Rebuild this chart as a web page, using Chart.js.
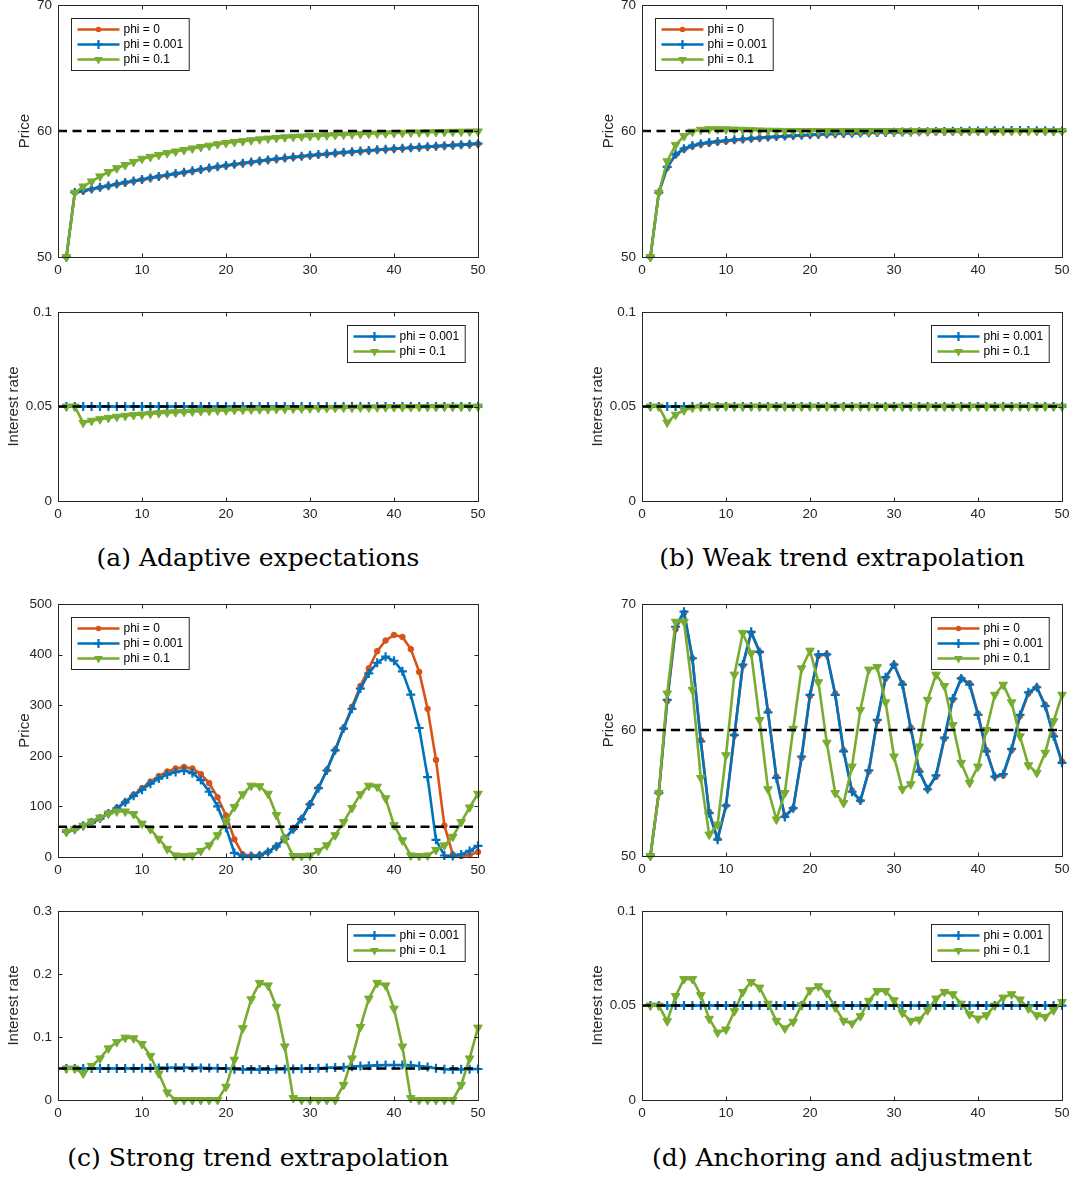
<!DOCTYPE html>
<html>
<head>
<meta charset="utf-8">
<script src="https://cdn.jsdelivr.net/npm/chart.js@4.4.1/dist/chart.umd.min.js"></script>
<style>
  body { margin: 0; background: #fff; width: 1074px; height: 1178px; position: relative; overflow: hidden; }
  canvas { position: absolute; }
  .cap { position: absolute; font-family: "DejaVu Serif", serif; font-size: 25px; line-height: 1; color: #000;
         transform: translate(-50%, -50%); white-space: nowrap; }
</style>
</head>
<body>
<div class="cap" style="left:258px;top:557px">(a) Adaptive expectations</div>
<div class="cap" style="left:842px;top:557px">(b) Weak trend extrapolation</div>
<div class="cap" style="left:258px;top:1157px">(c) Strong trend extrapolation</div>
<div class="cap" style="left:842px;top:1157px">(d) Anchoring and adjustment</div>

<script>
// ---- data ----
const periods = [1, 2, 3, 4, 5, 6, 7, 8, 9, 10, 11, 12, 13, 14, 15, 16, 17, 18, 19, 20,
  21, 22, 23, 24, 25, 26, 27, 28, 29, 30, 31, 32, 33, 34, 35, 36, 37, 38, 39, 40,
  41, 42, 43, 44, 45, 46, 47, 48, 49, 50];
const periodTicks = [0, 10, 20, 30, 40, 50];
const priceTicks = [50, 60, 70];
const priceTicksStrong = [0, 100, 200, 300, 400, 500];
const rateTicks = [0, 0.05, 0.1];
const rateTicksStrong = [0, 0.1, 0.2, 0.3];
const steadyPrice = 60;
const steadyRate = 0.05;
const seriesNames = ['phi = 0', 'phi = 0.001', 'phi = 0.1'];

// (a) adaptive expectations
const aPrice0 = [50, 55.1, 55.25, 55.38, 55.51, 55.64, 55.77, 55.9, 56.02, 56.14,
  56.26, 56.38, 56.49, 56.6, 56.71, 56.82, 56.93, 57.04, 57.15, 57.25,
  57.34, 57.43, 57.52, 57.61, 57.69, 57.77, 57.84, 57.91, 57.98, 58.05,
  58.11, 58.17, 58.23, 58.29, 58.34, 58.39, 58.44, 58.49, 58.54, 58.58,
  58.62, 58.66, 58.7, 58.74, 58.78, 58.82, 58.86, 58.9, 58.94, 58.98];
const aPrice1 = [50, 55.12, 55.27, 55.4, 55.53, 55.66, 55.79, 55.92, 56.04, 56.16,
  56.28, 56.4, 56.51, 56.62, 56.73, 56.84, 56.95, 57.06, 57.17, 57.27,
  57.36, 57.45, 57.54, 57.63, 57.71, 57.79, 57.86, 57.93, 58.0, 58.07,
  58.13, 58.19, 58.25, 58.31, 58.36, 58.41, 58.46, 58.51, 58.56, 58.6,
  58.64, 58.68, 58.72, 58.76, 58.8, 58.84, 58.88, 58.92, 58.96, 59.0];
const aPrice10 = [50, 55.1, 55.6, 56.0, 56.4, 56.75, 57.05, 57.3, 57.55, 57.8,
  57.95, 58.1, 58.25, 58.38, 58.5, 58.62, 58.73, 58.84, 58.95, 59.05,
  59.13, 59.2, 59.27, 59.34, 59.4, 59.45, 59.5, 59.54, 59.57, 59.6,
  59.63, 59.66, 59.69, 59.72, 59.74, 59.76, 59.78, 59.8, 59.82, 59.84,
  59.86, 59.88, 59.89, 59.9, 59.92, 59.93, 59.94, 59.95, 59.96, 59.97];
const rateFlat = [0.05, 0.05, 0.05, 0.05, 0.05, 0.05, 0.05, 0.05, 0.05, 0.05,
  0.05, 0.05, 0.05, 0.05, 0.05, 0.05, 0.05, 0.05, 0.05, 0.05,
  0.05, 0.05, 0.05, 0.05, 0.05, 0.05, 0.05, 0.05, 0.05, 0.05,
  0.05, 0.05, 0.05, 0.05, 0.05, 0.05, 0.05, 0.05, 0.05, 0.05,
  0.05, 0.05, 0.05, 0.05, 0.05, 0.05, 0.05, 0.05, 0.05, 0.05];
const aRate10 = [0.05, 0.05, 0.0414, 0.0425, 0.0433, 0.044, 0.0446, 0.0451, 0.0455, 0.0458,
  0.0462, 0.0465, 0.0468, 0.047, 0.0472, 0.0474, 0.0476, 0.0478, 0.0479, 0.048,
  0.0482, 0.0483, 0.0484, 0.0485, 0.0486, 0.0487, 0.0488, 0.0489, 0.049, 0.0491,
  0.0492, 0.0492, 0.0493, 0.0494, 0.0494, 0.0495, 0.0495, 0.0496, 0.0496, 0.0497,
  0.0497, 0.0497, 0.0498, 0.0498, 0.0498, 0.0499, 0.0499, 0.0499, 0.0499, 0.05];

// (b) weak trend extrapolation
const bPrice0 = [50, 55.1, 57.1, 58.1, 58.55, 58.8, 58.95, 59.05, 59.13, 59.2,
  59.27, 59.33, 59.39, 59.44, 59.49, 59.54, 59.58, 59.62, 59.65, 59.68,
  59.71, 59.74, 59.77, 59.79, 59.81, 59.83, 59.85, 59.87, 59.88, 59.9,
  59.91, 59.92, 59.93, 59.94, 59.95, 59.96, 59.96, 59.97, 59.97, 59.98,
  59.98, 59.99, 59.99, 60, 60, 60, 60, 60, 60, 60];
const bPrice1 = [50, 55.1, 57.15, 58.15, 58.6, 58.85, 59.0, 59.1, 59.18, 59.25,
  59.31, 59.37, 59.42, 59.47, 59.52, 59.56, 59.6, 59.64, 59.67, 59.7,
  59.73, 59.76, 59.78, 59.8, 59.82, 59.84, 59.86, 59.88, 59.89, 59.91,
  59.92, 59.93, 59.94, 59.95, 59.96, 59.97, 59.98, 59.99, 60, 60,
  60.01, 60.02, 60.03, 60.04, 60.04, 60.04, 60.03, 60.02, 60.01, 60];
const bPrice10 = [50, 55.1, 57.6, 58.9, 59.6, 59.95, 60.1, 60.15, 60.15, 60.14,
  60.12, 60.1, 60.07, 60.05, 60.03, 60.02, 60.01, 60, 60, 60,
  60, 60, 60, 60, 60, 60, 60, 60, 60, 60,
  60, 60, 60, 60, 60, 60, 60, 60, 60, 60,
  60, 60, 60, 60, 60, 60, 60, 60, 60, 60];
const bRate10 = [0.05, 0.05, 0.0415, 0.0457, 0.048, 0.0494, 0.0499, 0.0501, 0.0501, 0.0501,
  0.05, 0.05, 0.05, 0.05, 0.05, 0.05, 0.05, 0.05, 0.05, 0.05,
  0.05, 0.05, 0.05, 0.05, 0.05, 0.05, 0.05, 0.05, 0.05, 0.05,
  0.05, 0.05, 0.05, 0.05, 0.05, 0.05, 0.05, 0.05, 0.05, 0.05,
  0.05, 0.05, 0.05, 0.05, 0.05, 0.05, 0.05, 0.05, 0.05, 0.05];

// (c) strong trend extrapolation
const cPrice0 = [50, 55, 62, 68, 76, 86, 97, 109, 123, 136,
  149, 160, 169, 175, 178, 175, 164, 146, 118, 82,
  35, 5, 3, 4, 10, 21, 36, 55, 76, 105,
  137, 172, 212, 255, 297, 338, 373, 407, 428, 439,
  435, 411, 366, 293, 192, 62, 5, 2, 4, 10];
const cPrice1 = [50, 55, 62, 68, 76, 86, 96, 108, 121, 133,
  145, 155, 163, 168, 171, 166, 152, 129, 100, 58,
  8, 2, 2, 3, 10, 21, 36, 55, 75, 104,
  136, 171, 211, 254, 293, 333, 363, 384, 396, 388,
  367, 321, 255, 158, 34, 3, 2, 5, 12, 22];
const cPrice10 = [50, 55, 62, 70, 78, 86, 90, 90, 85, 66,
  55, 36, 16, 3, 2, 3, 12, 23, 43, 70,
  99, 124, 141, 140, 125, 83, 36, 2, 2, 3,
  12, 23, 43, 69, 97, 124, 141, 139, 116, 63,
  33, 3, 2, 3, 14, 23, 40, 69, 98, 125];
const cRate1 = [0.05, 0.05, 0.05, 0.05, 0.05, 0.05, 0.05, 0.0502, 0.0503, 0.0505,
  0.0507, 0.051, 0.0512, 0.0513, 0.0513, 0.0512, 0.051, 0.0507, 0.0505, 0.05,
  0.049, 0.0485, 0.0483, 0.0483, 0.0485, 0.0488, 0.049, 0.0493, 0.0497, 0.05,
  0.0505, 0.051, 0.0515, 0.052, 0.053, 0.054, 0.0545, 0.055, 0.0555, 0.0555,
  0.0555, 0.055, 0.054, 0.0525, 0.0505, 0.049, 0.0485, 0.0487, 0.049, 0.0492];
const cRate10 = [0.05, 0.05, 0.042, 0.054, 0.066, 0.082, 0.092, 0.099, 0.098, 0.089,
  0.07, 0.042, 0.012, 0, 0, 0, 0, 0, 0, 0.021,
  0.064, 0.114, 0.16, 0.186, 0.182, 0.148, 0.085, 0.003, 0, 0,
  0, 0, 0, 0.024, 0.066, 0.116, 0.161, 0.186, 0.182, 0.145,
  0.085, 0.003, 0, 0, 0, 0, 0, 0.024, 0.066, 0.115];

// (d) anchoring and adjustment
const dPrice0 = [50, 55.0, 62.3, 68.0, 69.3, 65.7, 59.2, 53.5, 51.4, 54.0,
  59.6, 65.1, 67.7, 66.2, 61.5, 56.3, 53.2, 53.8, 57.8, 62.7,
  65.9, 66.0, 62.9, 58.4, 55.2, 54.4, 56.7, 60.7, 64.1, 65.2,
  63.7, 60.2, 56.8, 55.3, 56.3, 59.3, 62.4, 64.1, 63.7, 61.3,
  58.4, 56.3, 56.4, 58.4, 61.1, 62.9, 63.4, 62.0, 59.6, 57.5];
const dPrice1 = [50, 55.0, 62.4, 68.2, 69.4, 65.7, 59.1, 53.4, 51.3, 54.0,
  59.6, 65.2, 67.8, 66.2, 61.4, 56.2, 53.1, 53.8, 57.9, 62.8,
  66.0, 66.0, 62.8, 58.3, 55.1, 54.4, 56.8, 60.8, 64.2, 65.2,
  63.6, 60.1, 56.7, 55.3, 56.4, 59.4, 62.5, 64.1, 63.6, 61.2,
  58.3, 56.3, 56.5, 58.5, 61.2, 63.0, 63.4, 61.9, 59.5, 57.4];
const dPrice10 = [50, 55.0, 62.9, 68.6, 68.6, 63.2, 56.2, 51.7, 52.5, 58.0,
  64.4, 67.7, 66.1, 60.8, 55.3, 52.9, 55.0, 60.1, 64.9, 66.3,
  63.8, 59.0, 55.0, 54.2, 57.1, 61.6, 64.8, 65.0, 62.2, 57.9,
  55.3, 55.7, 58.7, 62.4, 64.4, 63.5, 60.4, 57.4, 55.8, 57.1,
  60.0, 62.8, 63.6, 62.2, 59.5, 57.2, 56.6, 58.2, 60.7, 62.8];
const dRate10 = [0.05, 0.05, 0.0417, 0.055, 0.064, 0.064, 0.0555, 0.043, 0.0357, 0.0373,
  0.047, 0.0572, 0.0625, 0.0595, 0.051, 0.0419, 0.0379, 0.0414, 0.0502, 0.0581,
  0.0602, 0.0567, 0.049, 0.0419, 0.0405, 0.0444, 0.0525, 0.0577, 0.0577, 0.0528,
  0.0461, 0.0419, 0.0426, 0.0475, 0.0537, 0.0572, 0.056, 0.051, 0.0454, 0.0431,
  0.0449, 0.05, 0.0542, 0.056, 0.0532, 0.0484, 0.0449, 0.044, 0.0475, 0.0519];

// ---- styles ----
const STY = [
  { color: '#D95319', shape: 'circle', radius: 2.8, bw: 1, rot: 0 },
  { color: '#0072BD', shape: 'cross', radius: 4.5, bw: 2.2, rot: 0 },
  { color: '#77AC30', shape: 'triangle', radius: 5, bw: 1, rot: 180 }
];
const AXIS = '#262626';
const SANS = '"Liberation Sans", Arial, sans-serif';
const PAD_L = 58, PAD_T = 10, PAD_R = 16, PAD_B = 24;

function marker(ctx, k, x, y) {
  const s = STY[k];
  ctx.fillStyle = s.color; ctx.strokeStyle = s.color;
  if (s.shape === 'circle') {
    ctx.beginPath(); ctx.arc(x, y, s.radius, 0, Math.PI * 2); ctx.fill();
  } else if (s.shape === 'cross') {
    ctx.lineWidth = s.bw; ctx.beginPath();
    ctx.moveTo(x - s.radius, y); ctx.lineTo(x + s.radius, y);
    ctx.moveTo(x, y - s.radius); ctx.lineTo(x, y + s.radius); ctx.stroke();
  } else {
    const r = s.radius; ctx.beginPath();
    ctx.moveTo(x, y + r);
    ctx.lineTo(x - r * Math.sin(Math.PI / 3), y - r / 2);
    ctx.lineTo(x + r * Math.sin(Math.PI / 3), y - r / 2);
    ctx.closePath(); ctx.fill();
  }
}

// frame with inward ticks + boxed legend
const framePlugin = {
  id: 'frame',
  afterDraw(chart, args, opts) {
    const { ctx, chartArea: a, scales: { x, y } } = chart;
    ctx.save();
    ctx.strokeStyle = AXIS; ctx.lineWidth = 1;
    const L = Math.round(a.left) + 0.5, R = Math.round(a.right) + 0.5;
    const T = Math.round(a.top) + 0.5, B = Math.round(a.bottom) + 0.5;
    ctx.strokeRect(L, T, R - L, B - T);
    ctx.beginPath();
    x.ticks.forEach(t => {
      const px = Math.round(x.getPixelForValue(t.value)) + 0.5;
      ctx.moveTo(px, B); ctx.lineTo(px, B - 4);
      ctx.moveTo(px, T); ctx.lineTo(px, T + 4);
    });
    y.ticks.forEach(t => {
      const py = Math.round(y.getPixelForValue(t.value)) + 0.5;
      ctx.moveTo(L, py); ctx.lineTo(L + 4, py);
      ctx.moveTo(R, py); ctx.lineTo(R - 4, py);
    });
    ctx.stroke();

    // legend
    const keys = opts.keys || [];
    if (keys.length) {
      ctx.font = '12px ' + SANS;
      const tw = Math.max(...keys.map(k => ctx.measureText(seriesNames[k]).width));
      const lineLen = 42, rowH = 15;
      const w = 6 + lineLen + 4 + tw + 6, h = keys.length * rowH + 7;
      const bx = Math.round(opts.side === 'left' ? a.left + 13 : a.right - 13 - w) + 0.5;
      const by = Math.round(a.top + 13) + 0.5;
      ctx.fillStyle = '#fff'; ctx.fillRect(bx, by, w, h);
      ctx.strokeStyle = AXIS; ctx.lineWidth = 1; ctx.strokeRect(bx, by, w, h);
      keys.forEach((k, i) => {
        const cy = by + 11 + i * rowH;
        ctx.strokeStyle = STY[k].color; ctx.lineWidth = 2.5;
        ctx.beginPath(); ctx.moveTo(bx + 6, cy); ctx.lineTo(bx + 6 + lineLen, cy); ctx.stroke();
        marker(ctx, k, bx + 6 + lineLen / 2, cy);
        ctx.fillStyle = '#000'; ctx.textAlign = 'left'; ctx.textBaseline = 'middle';
        ctx.fillText(seriesNames[k], bx + 6 + lineLen + 4, cy + 0.5);
      });
    }
    ctx.restore();
  }
};

function buildConfig(yTicks, yTitle, titleGap, series, steady, legend) {
  const datasets = series.map(s => {
    const st = STY[s.k];
    return {
      label: seriesNames[s.k],
      data: periods.map((p, i) => ({ x: p, y: s.vals[i] })),
      borderColor: st.color, backgroundColor: st.color, borderWidth: 2.6,
      pointStyle: st.shape, pointRadius: st.radius, pointBorderWidth: st.bw,
      pointRotation: st.rot, pointBackgroundColor: st.color, pointBorderColor: st.color,
      tension: 0, clip: 6, order: 3 - s.k
    };
  });
  datasets.push({
    label: 'steady', data: [{ x: 0, y: steady }, { x: 50, y: steady }],
    borderColor: '#000', borderWidth: 2.5, borderDash: [9, 5.5], pointRadius: 0, order: 0
  });

  const tickFont = { family: SANS, size: 13.5 };
  return {
    type: 'line',
    data: { datasets },
    options: {
      responsive: false, animation: false, events: [],
      layout: { padding: { left: 0, top: PAD_T, right: PAD_R, bottom: 0 } },
      plugins: { legend: { display: false }, tooltip: { enabled: false }, frame: legend },
      scales: {
        x: {
          type: 'linear', min: 0, max: 50,
          afterBuildTicks: sc => { sc.ticks = periodTicks.map(v => ({ value: v })); },
          afterFit: sc => { sc.height = PAD_B; },
          grid: { display: false, drawTicks: false }, border: { display: false },
          ticks: { padding: 5, font: tickFont, color: AXIS, maxRotation: 0, autoSkip: false, callback: v => String(v) }
        },
        y: {
          type: 'linear', min: yTicks[0], max: yTicks[yTicks.length - 1],
          afterBuildTicks: sc => { sc.ticks = yTicks.map(v => ({ value: v })); },
          afterFit: sc => { sc.width = PAD_L; },
          grid: { display: false, drawTicks: false }, border: { display: false },
          ticks: { padding: 6, font: tickFont, color: AXIS, autoSkip: false, callback: v => String(v) },
          title: { display: true, text: yTitle, color: AXIS, font: { family: SANS, size: 15 }, padding: { top: titleGap, bottom: 0 } }
        }
      }
    },
    plugins: [framePlugin]
  };
}

// build, measure the plot area, rebuild so the plot box lands on rect
function makeChart(rect, yTicks, yTitle, titleGap, series, steady, legend) {
  const pw = rect.r - rect.l, ph = rect.b - rect.t;
  let w = pw + PAD_L + PAD_R, h = ph + PAD_T + PAD_B;
  const cv = document.createElement('canvas');
  cv.width = w; cv.height = h;
  document.body.appendChild(cv);
  let chart = new Chart(cv, buildConfig(yTicks, yTitle, titleGap, series, steady, legend));
  let a = chart.chartArea;
  const dw = pw - (a.right - a.left), dh = ph - (a.bottom - a.top);
  if (Math.abs(dw) > 0.01 || Math.abs(dh) > 0.01) {
    chart.destroy();
    w += dw; h += dh;
    cv.width = w; cv.height = h;
    chart = new Chart(cv, buildConfig(yTicks, yTitle, titleGap, series, steady, legend));
    a = chart.chartArea;
  }
  cv.style.width = w + 'px'; cv.style.height = h + 'px';
  cv.style.left = (rect.l - a.left) + 'px';
  cv.style.top = (rect.t - a.top) + 'px';
  return chart;
}

const L = 58, R = 478, L2 = 642, R2 = 1062;
// (a)
makeChart({ l: L, t: 5, r: R, b: 257 }, priceTicks, 'Price', 16,
  [{ k: 0, vals: aPrice0 }, { k: 1, vals: aPrice1 }, { k: 2, vals: aPrice10 }], steadyPrice, { keys: [0, 1, 2], side: 'left' });
makeChart({ l: L, t: 312, r: R, b: 501 }, rateTicks, 'Interest rate', 5,
  [{ k: 1, vals: rateFlat }, { k: 2, vals: aRate10 }], steadyRate, { keys: [1, 2], side: 'right' });
// (b)
makeChart({ l: L2, t: 5, r: R2, b: 257 }, priceTicks, 'Price', 16,
  [{ k: 0, vals: bPrice0 }, { k: 1, vals: bPrice1 }, { k: 2, vals: bPrice10 }], steadyPrice, { keys: [0, 1, 2], side: 'left' });
makeChart({ l: L2, t: 312, r: R2, b: 501 }, rateTicks, 'Interest rate', 5,
  [{ k: 1, vals: rateFlat }, { k: 2, vals: bRate10 }], steadyRate, { keys: [1, 2], side: 'right' });
// (c)
makeChart({ l: L, t: 604, r: R, b: 857 }, priceTicksStrong, 'Price', 16,
  [{ k: 0, vals: cPrice0 }, { k: 1, vals: cPrice1 }, { k: 2, vals: cPrice10 }], steadyPrice, { keys: [0, 1, 2], side: 'left' });
makeChart({ l: L, t: 911, r: R, b: 1100 }, rateTicksStrong, 'Interest rate', 5,
  [{ k: 1, vals: cRate1 }, { k: 2, vals: cRate10 }], steadyRate, { keys: [1, 2], side: 'right' });
// (d)
makeChart({ l: L2, t: 604, r: R2, b: 856 }, priceTicks, 'Price', 16,
  [{ k: 0, vals: dPrice0 }, { k: 1, vals: dPrice1 }, { k: 2, vals: dPrice10 }], steadyPrice, { keys: [0, 1, 2], side: 'right' });
makeChart({ l: L2, t: 911, r: R2, b: 1100 }, rateTicks, 'Interest rate', 5,
  [{ k: 1, vals: rateFlat }, { k: 2, vals: dRate10 }], steadyRate, { keys: [1, 2], side: 'right' });
</script>
</body>
</html>
